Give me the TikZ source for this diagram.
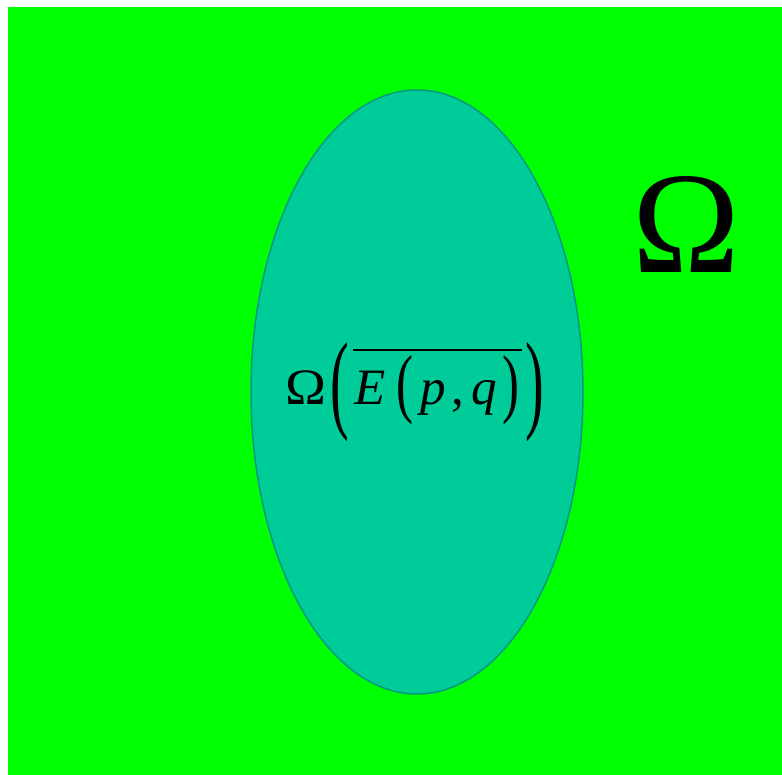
\documentclass[tikz,border=0pt]{standalone}
\usepackage{fontspec}
\usepackage{graphicx}
\setmainfont{Liberation Serif}
\usetikzlibrary{shapes.geometric}
\definecolor{bggreen}{HTML}{00FF00}
\definecolor{ellfill}{HTML}{00CC99}
\definecolor{ellline}{HTML}{009980}
\newcommand{\bigparen}[4]{\raisebox{#3}{\scalebox{#1}[#2]{#4}}}
\newcommand{\myoverbar}[1]{\setbox0\hbox{#1}\rlap{\raisebox{54pt}{\rule{\wd0}{2pt}}}\box0}
\tikzset{
  setbox/.style={ellipse, draw=ellline, fill=ellfill, line width=1.5pt, inner sep=0pt},
}
\begin{document}
\begin{tikzpicture}[x=1pt,y=-1pt]
\useasboundingbox (0,0) rectangle (782,775);
\fill[bggreen] (8,7) rectangle (782,775);
\node[setbox, minimum width=332pt, minimum height=604pt] (E) at (417,392) {};
\node[font=\fontsize{51}{56}\selectfont, inner sep=0pt, anchor=base] (lbl) at (415,405)
  {\scalebox{1.08}[1]{Ω}\kern4pt\bigparen{1.1}{2.15}{-14pt}{(}\kern4pt\myoverbar{\kern1pt\textit{E}\kern11pt\bigparen{1}{1.5}{-4pt}{(}\kern7pt\textit{p}\kern6pt,\kern7pt\textit{q}\kern6pt\bigparen{1}{1.5}{-4pt}{)}\kern2pt}\kern4pt\bigparen{1.1}{2.15}{-14pt}{)}};
\node[font=\fontsize{145}{150}\selectfont, inner sep=0pt, anchor=base] (om) at (686,273) {Ω};
\end{tikzpicture}
\end{document}
